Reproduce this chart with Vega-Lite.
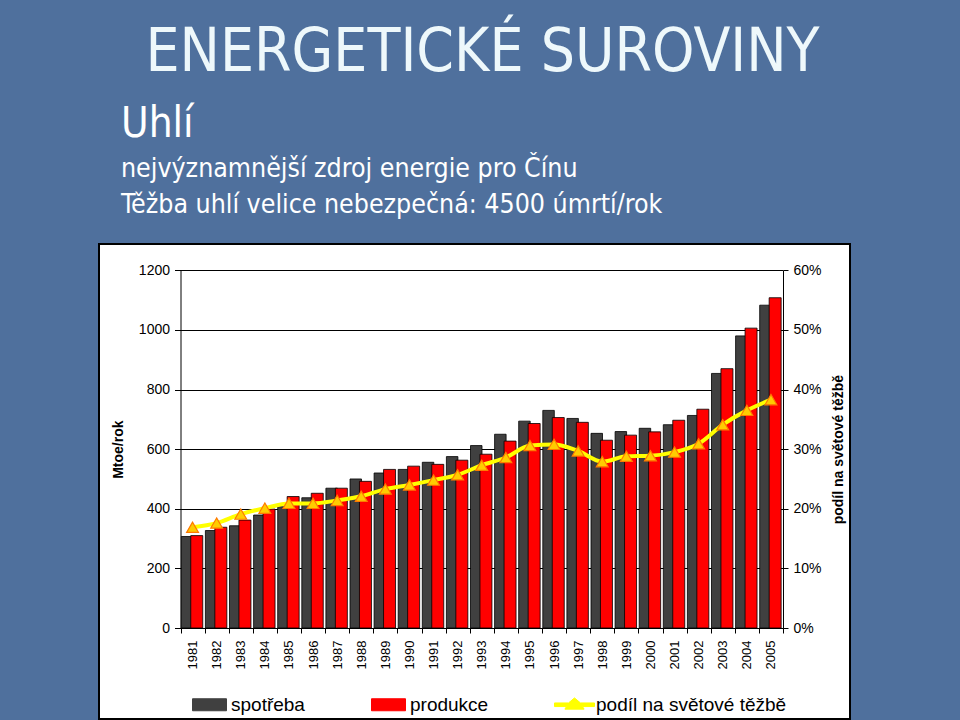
{
  "$schema": "https://vega.github.io/schema/vega-lite/v6.json",
  "background": "#4f709d",
  "padding": {"left": 92, "top": 22, "right": 109, "bottom": 2},
  "title": {
    "text": "ENERGETICKÉ SUROVINY",
    "anchor": "middle",
    "frame": "bounds",
    "dx": 11,
    "fontSize": 60,
    "font": "Liberation Sans Narrow, DejaVu Sans Condensed, Liberation Sans",
    "fontWeight": "normal",
    "color": "#eef8fb",
    "offset": 18
  },
  "data": {
    "values": [
      {"rok": "1981", "rada": "spotřeba", "hodnota": 307},
      {"rok": "1982", "rada": "spotřeba", "hodnota": 327},
      {"rok": "1983", "rada": "spotřeba", "hodnota": 343},
      {"rok": "1984", "rada": "spotřeba", "hodnota": 379},
      {"rok": "1985", "rada": "spotřeba", "hodnota": 407},
      {"rok": "1986", "rada": "spotřeba", "hodnota": 437},
      {"rok": "1987", "rada": "spotřeba", "hodnota": 469},
      {"rok": "1988", "rada": "spotřeba", "hodnota": 500},
      {"rok": "1989", "rada": "spotřeba", "hodnota": 520},
      {"rok": "1990", "rada": "spotřeba", "hodnota": 532},
      {"rok": "1991", "rada": "spotřeba", "hodnota": 556},
      {"rok": "1992", "rada": "spotřeba", "hodnota": 575},
      {"rok": "1993", "rada": "spotřeba", "hodnota": 612},
      {"rok": "1994", "rada": "spotřeba", "hodnota": 650},
      {"rok": "1995", "rada": "spotřeba", "hodnota": 694},
      {"rok": "1996", "rada": "spotřeba", "hodnota": 730},
      {"rok": "1997", "rada": "spotřeba", "hodnota": 703},
      {"rok": "1998", "rada": "spotřeba", "hodnota": 653},
      {"rok": "1999", "rada": "spotřeba", "hodnota": 659},
      {"rok": "2000", "rada": "spotřeba", "hodnota": 670},
      {"rok": "2001", "rada": "spotřeba", "hodnota": 682},
      {"rok": "2002", "rada": "spotřeba", "hodnota": 713},
      {"rok": "2003", "rada": "spotřeba", "hodnota": 854},
      {"rok": "2004", "rada": "spotřeba", "hodnota": 980},
      {"rok": "2005", "rada": "spotřeba", "hodnota": 1083},
      {"rok": "1981", "rada": "produkce", "hodnota": 310},
      {"rok": "1982", "rada": "produkce", "hodnota": 338},
      {"rok": "1983", "rada": "produkce", "hodnota": 362},
      {"rok": "1984", "rada": "produkce", "hodnota": 399},
      {"rok": "1985", "rada": "produkce", "hodnota": 441},
      {"rok": "1986", "rada": "produkce", "hodnota": 452},
      {"rok": "1987", "rada": "produkce", "hodnota": 469},
      {"rok": "1988", "rada": "produkce", "hodnota": 492},
      {"rok": "1989", "rada": "produkce", "hodnota": 532},
      {"rok": "1990", "rada": "produkce", "hodnota": 543},
      {"rok": "1991", "rada": "produkce", "hodnota": 549},
      {"rok": "1992", "rada": "produkce", "hodnota": 563},
      {"rok": "1993", "rada": "produkce", "hodnota": 583},
      {"rok": "1994", "rada": "produkce", "hodnota": 627},
      {"rok": "1995", "rada": "produkce", "hodnota": 686},
      {"rok": "1996", "rada": "produkce", "hodnota": 706},
      {"rok": "1997", "rada": "produkce", "hodnota": 690},
      {"rok": "1998", "rada": "produkce", "hodnota": 630},
      {"rok": "1999", "rada": "produkce", "hodnota": 647},
      {"rok": "2000", "rada": "produkce", "hodnota": 658},
      {"rok": "2001", "rada": "produkce", "hodnota": 697},
      {"rok": "2002", "rada": "produkce", "hodnota": 734},
      {"rok": "2003", "rada": "produkce", "hodnota": 870},
      {"rok": "2004", "rada": "produkce", "hodnota": 1006},
      {"rok": "2005", "rada": "produkce", "hodnota": 1108},
      {"rok": "1981", "rada": "podíl na světové těžbě", "hodnota": 0.169},
      {"rok": "1982", "rada": "podíl na světové těžbě", "hodnota": 0.176},
      {"rok": "1983", "rada": "podíl na světové těžbě", "hodnota": 0.191},
      {"rok": "1984", "rada": "podíl na světové těžbě", "hodnota": 0.201},
      {"rok": "1985", "rada": "podíl na světové těžbě", "hodnota": 0.209},
      {"rok": "1986", "rada": "podíl na světové těžbě", "hodnota": 0.209},
      {"rok": "1987", "rada": "podíl na světové těžbě", "hodnota": 0.214},
      {"rok": "1988", "rada": "podíl na světové těžbě", "hodnota": 0.221},
      {"rok": "1989", "rada": "podíl na světové těžbě", "hodnota": 0.233},
      {"rok": "1990", "rada": "podíl na světové těžbě", "hodnota": 0.240},
      {"rok": "1991", "rada": "podíl na světové těžbě", "hodnota": 0.248},
      {"rok": "1992", "rada": "podíl na světové těžbě", "hodnota": 0.257},
      {"rok": "1993", "rada": "podíl na světové těžbě", "hodnota": 0.273},
      {"rok": "1994", "rada": "podíl na světové těžbě", "hodnota": 0.286},
      {"rok": "1995", "rada": "podíl na světové těžbě", "hodnota": 0.306},
      {"rok": "1996", "rada": "podíl na světové těžbě", "hodnota": 0.308},
      {"rok": "1997", "rada": "podíl na světové těžbě", "hodnota": 0.297},
      {"rok": "1998", "rada": "podíl na světové těžbě", "hodnota": 0.279},
      {"rok": "1999", "rada": "podíl na světové těžbě", "hodnota": 0.288},
      {"rok": "2000", "rada": "podíl na světové těžbě", "hodnota": 0.289},
      {"rok": "2001", "rada": "podíl na světové těžbě", "hodnota": 0.295},
      {"rok": "2002", "rada": "podíl na světové těžbě", "hodnota": 0.309},
      {"rok": "2003", "rada": "podíl na světové těžbě", "hodnota": 0.341},
      {"rok": "2004", "rada": "podíl na světové těžbě", "hodnota": 0.365},
      {"rok": "2005", "rada": "podíl na světové těžbě", "hodnota": 0.383}
    ]
  },
  "vconcat": [
    {
      "width": 751,
      "height": 475,
      "title": {
        "text": "Uhlí",
        "subtitle": ["nejvýznamnější zdroj energie pro Čínu", "Těžba uhlí velice nebezpečná: 4500 úmrtí/rok"],
        "anchor": "start",
        "frame": "group",
        "dx": 22,
        "fontSize": 42,
        "font": "Liberation Sans Narrow, DejaVu Sans Condensed, Liberation Sans",
        "fontWeight": "normal",
        "color": "#ffffff",
        "subtitleFontSize": 26.5,
        "subtitleFont": "Liberation Sans Narrow, DejaVu Sans Condensed, Liberation Sans",
        "subtitleColor": "#ffffff",
        "subtitlePadding": 10,
        "subtitleLineHeight": 36,
        "offset": 25
      },
      "layer": [
        {
          "layer": [
            {
              "transform": [{"filter": "datum.rada === 'spotřeba'"}],
              "mark": {"type": "bar", "width": 11.5, "xOffset": -5.5, "stroke": "#000000", "strokeWidth": 0.8},
              "encoding": {
                "x": {
                  "field": "rok", "type": "ordinal",
                  "scale": {"range": [81.5, 684], "paddingInner": 0, "paddingOuter": 0},
                  "axis": {
                    "orient": "bottom", "offset": -91, "title": null, "labelAngle": 270,
                    "labelFontSize": 13, "labelPadding": 7, "tickBand": "extent", "tickSize": 5, "grid": false
                  }
                },
                "y": {
                  "field": "hodnota", "type": "quantitative",
                  "scale": {"domain": [0, 1200], "range": [384, 26.3], "nice": false},
                  "axis": {
                    "orient": "left", "offset": -81.5, "values": [0, 200, 400, 600, 800, 1000, 1200], "format": "d",
                    "title": "Mtoe/rok", "titleFontSize": 14, "titleFontWeight": "bold", "titlePadding": 13,
                    "labelFontSize": 14, "labelPadding": 5, "tickSize": 6, "grid": true
                  }
                },
                "color": {
                  "field": "rada", "type": "nominal",
                  "scale": {"domain": ["spotřeba", "produkce", "podíl na světové těžbě"], "range": ["#404040", "#ff0000", "#ffff00"]},
                  "legend": {
                    "orient": "none", "legendX": 90, "legendY": 440, "direction": "horizontal", "title": null,
                    "columnPadding": 63, "labelFontSize": 19, "labelOffset": 1, "labelLimit": 0, "symbolSize": 1600, "padding": 0,
                    "symbolType": {"expr": "datum.value === 'podíl na světové těžbě' ? 'M-1,-0.09H-0.3L0,-0.34L0.3,-0.09H1V0.09H0.4L0.48,0.22H-0.48L-0.4,0.09H-1Z' : 'M-0.85,-0.3H0.85V0.3H-0.85Z'"},
                    "symbolStrokeColor": {"expr": "datum.value === 'podíl na světové těžbě' ? '#f0a000' : '#000000'"},
                    "symbolStrokeWidth": 1,
                    "symbolOpacity": 1
                  }
                }
              }
            },
            {
              "transform": [{"filter": "datum.rada === 'produkce'"}],
              "mark": {"type": "bar", "width": 12, "xOffset": 4.2, "stroke": "#000000", "strokeWidth": 0.8},
              "encoding": {
                "x": {"field": "rok", "type": "ordinal"},
                "y": {"field": "hodnota", "type": "quantitative"},
                "color": {"field": "rada", "type": "nominal"}
              }
            }
          ]
        },
        {
          "layer": [
            {
              "transform": [{"filter": "datum.rada === 'podíl na světové těžbě'"}],
              "mark": {"type": "line", "strokeWidth": 4, "interpolate": "monotone"},
              "encoding": {
                "x": {"field": "rok", "type": "ordinal"},
                "y": {
                  "field": "hodnota", "type": "quantitative",
                  "scale": {"domain": [0, 0.6], "range": [384, 26.3], "nice": false},
                  "axis": {
                    "orient": "right", "offset": -67, "values": [0, 0.1, 0.2, 0.3, 0.4, 0.5, 0.6], "format": ".0%",
                    "title": "podíl na světové těžbě", "titleAngle": 270, "titleFontSize": 14, "titleFontWeight": "bold", "titlePadding": 24,
                    "labelFontSize": 14, "labelPadding": 5, "tickSize": 5, "grid": false
                  }
                },
                "color": {"field": "rada", "type": "nominal"}
              }
            },
            {
              "transform": [{"filter": "datum.rada === 'podíl na světové těžbě'"}],
              "mark": {"type": "point", "shape": "triangle-up", "filled": true, "size": 140, "fill": "#ffcc00", "stroke": "#ff7a00", "strokeWidth": 1.2, "opacity": 1},
              "encoding": {
                "x": {"field": "rok", "type": "ordinal"},
                "y": {"field": "hodnota", "type": "quantitative"}
              }
            }
          ]
        }
      ],
      "resolve": {"scale": {"y": "independent"}, "axis": {"y": "independent"}}
    }
  ],
  "config": {
    "view": {"fill": "#ffffff", "stroke": "#000000", "strokeWidth": 2},
    "axis": {
      "labelFont": "Liberation Sans", "titleFont": "Liberation Sans",
      "labelColor": "#000000", "titleColor": "#000000", "tickColor": "#000000",
      "domainColor": "#000000", "gridColor": "#000000", "gridOpacity": 1, "domainWidth": 1, "tickWidth": 1
    },
    "legend": {"labelFont": "Liberation Sans", "labelColor": "#000000"}
  }
}
